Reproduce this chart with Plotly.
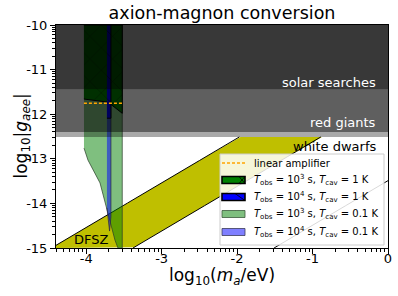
import numpy as np
import plotly.graph_objects as go

# ---------------- data ----------------
x_range = [-4.4, 0.0]
y_range = [-15.0, -10.0]

x_tickvals = [-4, -3, -2, -1, 0]
x_ticktext = ["-4", "-3", "-2", "-1", "0"]
y_tickvals = [-15, -14, -13, -12, -11, -10]
y_ticktext = ["-15", "-14", "-13", "-12", "-11", "-10"]

# astrophysical bounds on log10|g_aee|
wd_limit = -12.51      # white dwarfs
rg_limit = -12.40      # red giants
solar_limit = -11.45   # solar searches

# DFSZ band and extra line: log10 g = log10 m + offset
dfsz_upper_offset = -10.54
dfsz_lower_offset = -11.62
extra_line_offset = -13.49

# linear amplifier (dashed)
amp_x = [-4.03, -3.52]
amp_y = [-11.755, -11.755]

# T_obs = 1e3 s, T_cav = 1 K (hatched green)
g1_x = [-4.03, -3.522, -3.522, -3.71, -4.03]
g1_y = [-10.0, -10.0, -11.98, -11.73, -11.66]

# T_obs = 1e4 s, T_cav = 1 K (hatched blue)
b1_x = [-3.725, -3.672, -3.672, -3.725]
b1_y = [-10.0, -10.0, -12.09, -12.09]

# T_obs = 1e3 s, T_cav = 0.1 K (light green)
g01_x = [-4.03, -3.522, -3.522, -3.579, -3.619, -3.728, -3.817, -3.976, -4.029]
g01_y = [-10.0, -10.0, -15.0, -15.0, -14.82, -14.15, -13.54, -13.03, -12.76]

# T_obs = 1e4 s, T_cav = 0.1 K (light blue)
b01_x = [-3.725, -3.672, -3.672, -3.69, -3.725]
b01_y = [-10.0, -10.0, -14.3, -14.62, -14.1]

legend_names = [
    "linear amplifier",
    "<i>T</i><sub>obs</sub> = 10<sup>3</sup> s, <i>T</i><sub>cav</sub> = 1 K",
    "<i>T</i><sub>obs</sub> = 10<sup>4</sup> s, <i>T</i><sub>cav</sub> = 1 K",
    "<i>T</i><sub>obs</sub> = 10<sup>3</sup> s, <i>T</i><sub>cav</sub> = 0.1 K",
    "<i>T</i><sub>obs</sub> = 10<sup>4</sup> s, <i>T</i><sub>cav</sub> = 0.1 K",
]

# ---------------- figure ----------------
FONT = "DejaVu Sans"
GREEN = "rgb(0,128,0)"
BLUE = "rgb(0,0,255)"
LGREEN = "rgba(0,128,0,0.5)"
LBLUE = "rgba(0,0,255,0.5)"
ORANGE = "#ffa500"
fig = go.Figure()

xs = np.linspace(x_range[0], x_range[1], 881)
up = xs + dfsz_upper_offset
lo = xs + dfsz_lower_offset
up_c = np.clip(up, y_range[0], wd_limit)
lo_c = np.clip(lo, y_range[0], wd_limit)

fig.add_trace(go.Scatter(x=xs, y=lo_c, mode="lines", line=dict(width=0),
                         showlegend=False, hoverinfo="skip"))
fig.add_trace(go.Scatter(x=xs, y=up_c, mode="lines", line=dict(width=0),
                         fill="tonexty", fillcolor="rgb(191,191,0)", name="DFSZ",
                         showlegend=False, hoverinfo="skip"))

def masked(y):
    y = y.copy()
    y[(y < y_range[0]) | (y > wd_limit)] = np.nan
    return y

for yy in (masked(up), masked(lo), masked(xs + extra_line_offset)):
    fig.add_trace(go.Scatter(x=xs, y=yy, mode="lines",
                             line=dict(color="black", width=1),
                             showlegend=False, hoverinfo="skip"))

# light green / light blue
fig.add_trace(go.Scatter(x=g01_x, y=g01_y, fill="toself", mode="lines",
                         fillcolor=LGREEN,
                         line=dict(color="rgba(40,60,40,0.7)", width=1),
                         name=legend_names[3], showlegend=False))
fig.add_trace(go.Scatter(x=b01_x, y=b01_y, fill="toself", mode="lines",
                         fillcolor=LBLUE,
                         line=dict(color="rgba(40,40,60,0.7)", width=1),
                         name=legend_names[4], showlegend=False))

# hatched regions
fig.add_trace(go.Scatter(x=g1_x, y=g1_y, fill="toself", mode="lines",
                         fillcolor=GREEN,
                         fillpattern=dict(shape="x", fgcolor="black", bgcolor=GREEN,
                                          size=16, solidity=0.06),
                         line=dict(color="black", width=1),
                         name=legend_names[1], showlegend=False))
fig.add_trace(go.Scatter(x=b1_x, y=b1_y, fill="toself", mode="lines",
                         fillcolor=BLUE,
                         fillpattern=dict(shape="\\", fgcolor="black", bgcolor=BLUE,
                                          size=16, solidity=0.06),
                         line=dict(color="black", width=1),
                         name=legend_names[2], showlegend=False))

# gray exclusion bands
bands = [(wd_limit, rg_limit, "rgba(0,0,0,0.337)"),
         (rg_limit, solar_limit, "rgba(0,0,0,0.627)"),
         (solar_limit, y_range[1], "rgba(0,0,0,0.78)")]
for lo_b, hi_b, col in bands:
    fig.add_trace(go.Scatter(x=[x_range[0], x_range[1], x_range[1], x_range[0]],
                             y=[lo_b, lo_b, hi_b, hi_b], fill="toself", mode="lines",
                             fillcolor=col, line=dict(width=0),
                             showlegend=False, hoverinfo="skip"))

# linear amplifier dashed line
fig.add_trace(go.Scatter(x=amp_x, y=amp_y, mode="lines",
                         line=dict(color=ORANGE, width=1.3, dash="3px,2px"),
                         name=legend_names[0], showlegend=False))

# labels
label_x = -0.13
fig.add_annotation(x=label_x, y=-11.30, text="solar searches",
                   showarrow=False, xanchor="right", yanchor="middle",
                   font=dict(family=FONT, size=13, color="white"))
fig.add_annotation(x=label_x, y=-12.175, text="red giants",
                   showarrow=False, xanchor="right", yanchor="middle",
                   font=dict(family=FONT, size=13, color="white"))
fig.add_annotation(x=label_x, y=-12.735, text="white dwarfs",
                   showarrow=False, xanchor="right", yanchor="middle",
                   font=dict(family=FONT, size=13, color="black"))
fig.add_annotation(x=-3.923, y=-14.82, text="DFSZ",
                   showarrow=False, xanchor="center", yanchor="middle",
                   font=dict(family=FONT, size=13, color="black"))

# axis titles as annotations (exact placement)
fig.add_annotation(x=0.5, y=-28 / 223, xref="paper", yref="paper",
                   text="log<sub>10</sub>(<i>m<sub>a</sub></i>/eV)",
                   showarrow=False, xanchor="center", yanchor="middle",
                   font=dict(family=FONT, size=17, color="black"))
fig.add_annotation(x=-34 / 332, y=0.5, xref="paper", yref="paper",
                   text="log<sub>10</sub>|<i>g<sub>aee</sub></i>|", textangle=-90,
                   showarrow=False, xanchor="center", yanchor="middle",
                   font=dict(family=FONT, size=17, color="black"))

# ---------- compact legend (box, swatches, texts) in paper units ----------
PW, PH = 332.0, 223.0          # plot-area size in px
def px_x(p):                   # px from plot left -> paper
    return p / PW
def px_y(p):                   # px from plot bottom -> paper
    return p / PH

box_l, box_r, box_t, box_b = 164, 328, 94, 3       # px relative to plot area
fig.add_shape(type="rect", xref="paper", yref="paper",
              x0=px_x(box_l), x1=px_x(box_r), y0=px_y(box_b), y1=px_y(box_t),
              fillcolor="rgba(255,255,255,0.85)", line=dict(color="#cccccc", width=1),
              layer="above")
row_y = [85, 68, 51, 34, 16]                        # item centres, px above plot bottom
sw_l, sw_r, sw_h = 166, 189, 7
swatch_styles = [
    None,
    dict(fill=GREEN, edge="black", ew=1.6, hatch="x"),
    dict(fill=BLUE, edge="black", ew=1.6, hatch="\\"),
    dict(fill=LGREEN, edge="rgba(60,90,60,0.8)", ew=1, hatch=None),
    dict(fill=LBLUE, edge="rgba(60,60,90,0.8)", ew=1, hatch=None),
]
for ry, name, st in zip(row_y, legend_names, swatch_styles):
    if st is None:
        fig.add_shape(type="line", xref="paper", yref="paper",
                      x0=px_x(sw_l), x1=px_x(sw_r), y0=px_y(ry), y1=px_y(ry),
                      line=dict(color=ORANGE, width=1.3, dash="3px,2px"), layer="above")
    else:
        y0, y1 = px_y(ry - sw_h / 2), px_y(ry + sw_h / 2)
        fig.add_shape(type="rect", xref="paper", yref="paper",
                      x0=px_x(sw_l), x1=px_x(sw_r), y0=y0, y1=y1,
                      fillcolor=st["fill"], line=dict(color=st["edge"], width=st["ew"]),
                      layer="above")
        if st["hatch"] == "\\":
            fig.add_shape(type="line", xref="paper", yref="paper",
                          x0=px_x(sw_r - 10), x1=px_x(sw_r), y0=y1, y1=y0,
                          line=dict(color="black", width=0.8), layer="above")
        elif st["hatch"] == "x":
            fig.add_shape(type="line", xref="paper", yref="paper",
                          x0=px_x(sw_r - 6), x1=px_x(sw_r), y0=y1, y1=y0,
                          line=dict(color="black", width=0.8), layer="above")
            fig.add_shape(type="line", xref="paper", yref="paper",
                          x0=px_x(sw_r - 6), x1=px_x(sw_r), y0=y0, y1=y1,
                          line=dict(color="black", width=0.8), layer="above")
    fig.add_annotation(x=px_x(196), y=px_y(ry), xref="paper", yref="paper", text=name,
                       showarrow=False, xanchor="left", yanchor="middle",
                       font=dict(family=FONT, size=10.0, color="black"))

def minor_vals(lo_v, hi_v):
    vals = []
    for n in range(int(np.floor(lo_v)) - 1, int(np.ceil(hi_v)) + 1):
        for k in range(2, 10):
            v = n + np.log10(k)
            if lo_v < v < hi_v:
                vals.append(float(v))
    return vals

axis_common = dict(showline=True, linecolor="black", linewidth=1, mirror=True,
                   ticks="outside", ticklen=5, tickwidth=1, tickcolor="black",
                   showgrid=False, zeroline=False, automargin=False,
                   tickfont=dict(family=FONT, size=13, color="black"))

fig.update_xaxes(range=x_range, tickmode="array", tickvals=x_tickvals, ticktext=x_ticktext,
                 ticklabelstandoff=-7,
                 minor=dict(tickmode="array", tickvals=minor_vals(*x_range), ticks="outside",
                            ticklen=3, tickwidth=0.8, tickcolor="black", showgrid=False),
                 **axis_common)
fig.update_yaxes(range=y_range, tickmode="array", tickvals=y_tickvals, ticktext=y_ticktext,
                 minor=dict(tickmode="array", tickvals=minor_vals(*y_range), ticks="outside",
                            ticklen=3, tickwidth=0.8, tickcolor="black", showgrid=False),
                 **axis_common)

fig.update_layout(
    width=398, height=296,
    margin=dict(l=56, r=10, t=25, b=48, autoexpand=False),
    paper_bgcolor="white", plot_bgcolor="white",
    font=dict(family=FONT, color="black"),
    title=dict(text="axion-magnon conversion", x=0.5, xref="paper", xanchor="center",
               y=1 - 13 / 296, yref="container", yanchor="middle",
               font=dict(family=FONT, size=17.5, color="black")),
    showlegend=False,
)

fig.write_html("out.html", config={"displayModeBar": False},
               post_script="document.body.style.margin='0';document.body.style.padding='0';")
